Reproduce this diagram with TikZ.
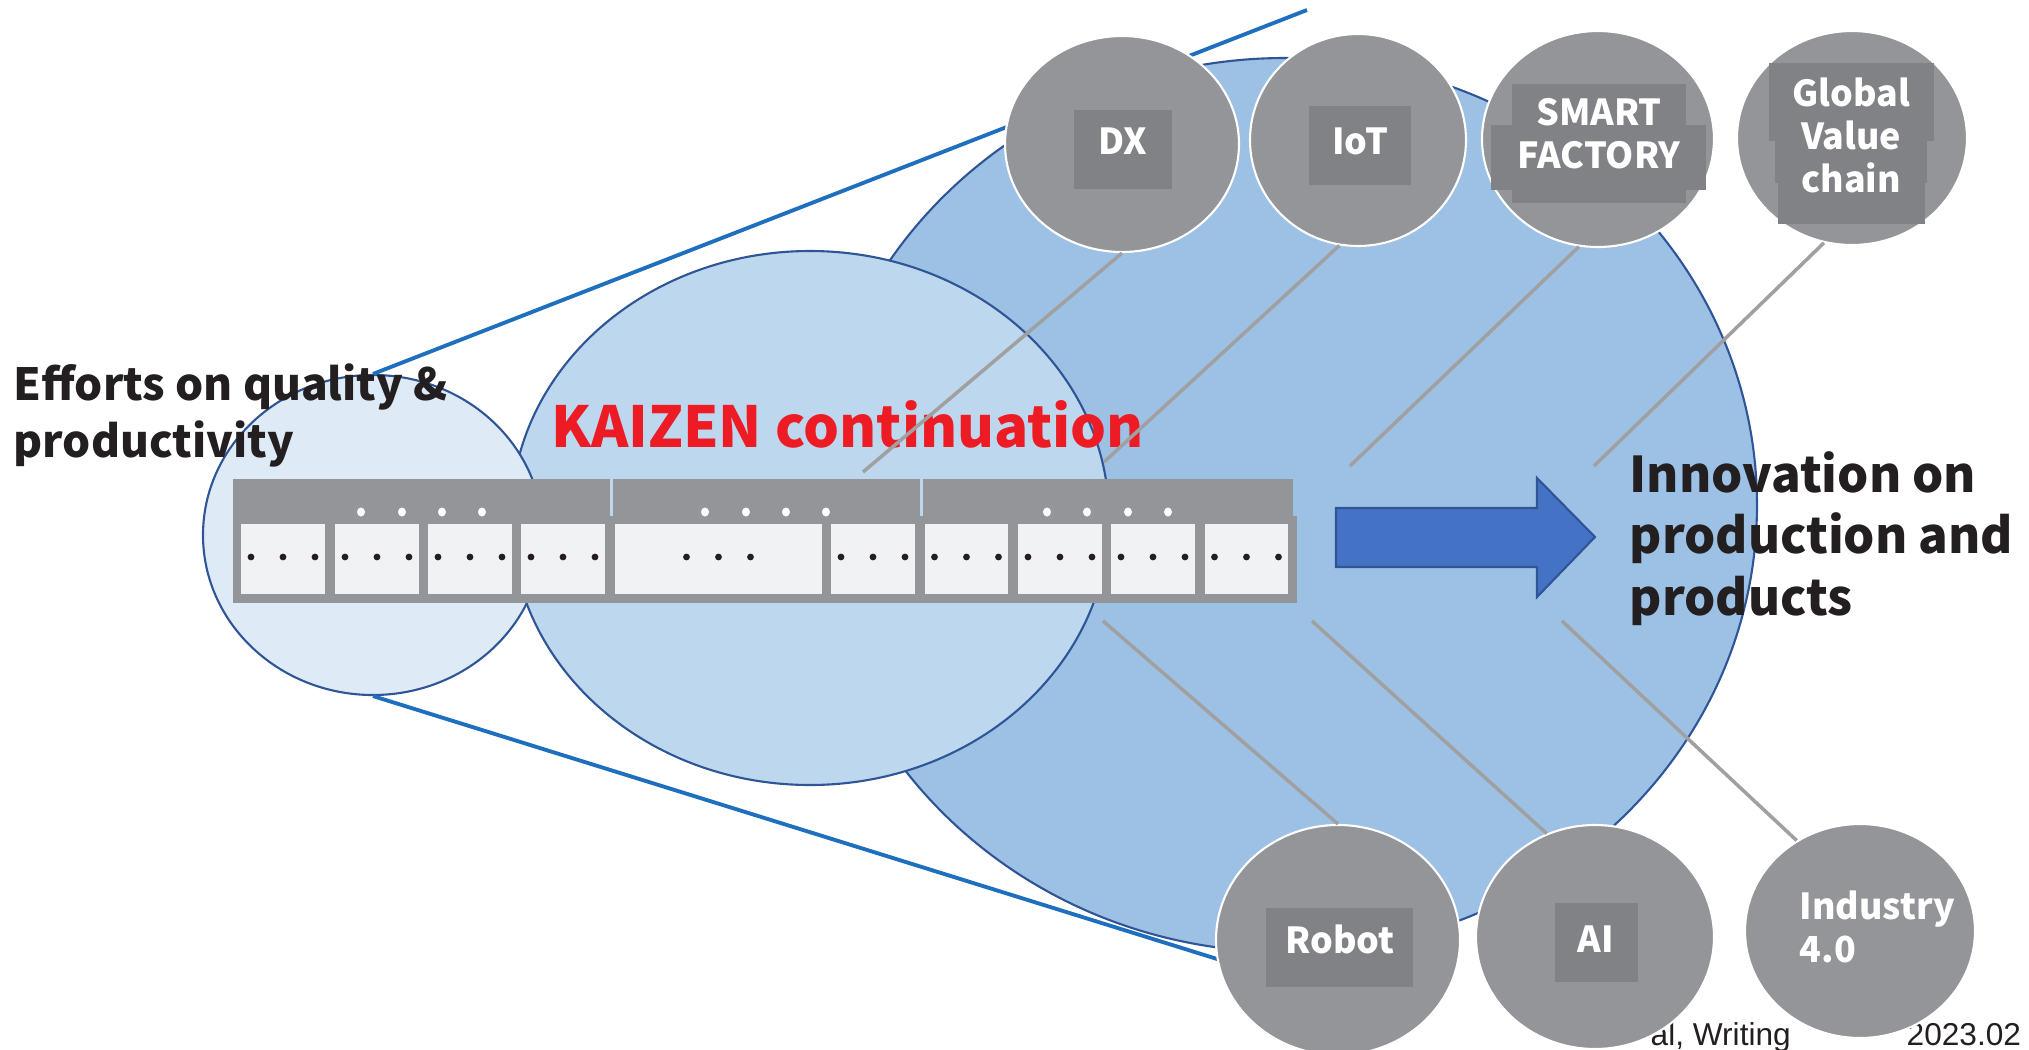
\documentclass[tikz,border=0pt]{standalone}
\usepackage{fontspec}
\setmainfont{Noto Sans CJK JP}
\newfontfamily\footfont{Liberation Sans}
\usetikzlibrary{shapes.geometric}

\definecolor{bigblue}{HTML}{9DC1E5}
\definecolor{midblue}{HTML}{BDD7EE}
\definecolor{paleblue}{HTML}{DEEBF7}
\definecolor{rimblue}{HTML}{2F5597}
\definecolor{lineblue}{HTML}{1F6FBF}
\definecolor{discgray}{HTML}{939598}
\definecolor{tagdark}{HTML}{808285}
\definecolor{bargray}{HTML}{939598}
\definecolor{cellwhite}{HTML}{F1F2F4}
\definecolor{arrowblue}{HTML}{4472C4}
\definecolor{kaizenred}{HTML}{ED1C24}
\definecolor{ink}{HTML}{231F20}
\definecolor{spokegray}{HTML}{A0A0A0}

\begin{document}
\begin{tikzpicture}[
  x=0.1mm, y=-0.1mm,
  blob/.style={ellipse, draw=rimblue, line width=0.6pt, inner sep=0pt},
  disc/.style={ellipse, fill=discgray, draw=white, line width=0.6pt, inner sep=0pt},
  lbl/.style={text=white, inner sep=0pt, font=\bfseries\fontsize{10.2}{12.1}\selectfont},
  spoke/.style={spokegray, line width=1pt},
  rim/.style={lineblue, line width=1.1pt},
  bigtext/.style={text=ink, align=left, inner sep=0pt, anchor=base west}
]
\useasboundingbox (0,0) rectangle (2029,1049);

% the three stages
\node[blob, fill=bigblue, minimum width=94.4mm, minimum height=89.4mm] (outer) at (1285,505) {};
\node[blob, fill=midblue, minimum width=59.8mm, minimum height=53.4mm] (kaizen) at (810,518) {};
\node[blob, fill=paleblue, minimum width=34mm, minimum height=32mm] (effort) at (373,535) {};

\coordinate (topend) at (1307,10);
\coordinate (botend) at (1230,963);
\draw[rim] (effort.north) -- (topend);
\draw[rim] (effort.south) -- (botend);

\node[bigtext, font=\bfseries\fontsize{12.6}{16.2}\selectfont] (efforttxt) at (13,457)
  {Efforts on quality \&\\productivity};
\node[bigtext, text=kaizenred, font=\bfseries\fontsize{16.1}{20}\selectfont] (kaizentxt) at (551,447)
  {KAIZEN continuation};
\node[bigtext, font=\bfseries\fontsize{14}{17.5}\selectfont] (goal) at (1629,615)
  {Innovation on\\production and\\products};

% bar of steps
\fill[bargray] (233,479) rectangle (610,520);
\fill[bargray] (613,479) rectangle (920,520);
\fill[bargray] (923,479) rectangle (1293,520);
\fill[bargray] (233,516) rectangle (1297,603);
\foreach \l/\r in {241/325,335/419,428/512,521/605,615/822,831/915,925/1008,1018/1102,1111/1195,1205/1288}{
  \fill[cellwhite] (\l,524) rectangle (\r,594);
  \foreach \d in {-32,0,32}
    \fill[ink] ({(\l+\r)/2+\d},557) circle (0.34mm);
}
\foreach \x in {361,402,442,482,705,746,786,826,1047,1087,1128,1168}
  \fill[white] (\x,512) ellipse (0.4mm and 0.45mm);

% arrow
\draw[rimblue, fill=arrowblue, line width=0.6pt]
  (1336,508) -- (1537,508) -- (1537,478) -- (1595,537) -- (1537,597)
  -- (1537,567) -- (1336,567) -- cycle;

% footer
\node[font=\footfont\fontsize{9}{11}\selectfont, text=ink, anchor=base west, inner sep=0pt] (note) at (1650,1045) {al, Writing};
\node[font=\footfont\fontsize{9}{11}\selectfont, text=ink, anchor=base west, inner sep=0pt] (date) at (1906,1045) {2023.02};

% technology discs
\node[disc, minimum width=23.4mm, minimum height=21.6mm] (dx) at (1122,144) {};
\node[disc, minimum width=21.6mm, minimum height=21.2mm] (iot) at (1358,140) {};
\node[disc, minimum width=23.2mm, minimum height=21.6mm] (smart) at (1598,139) {};
\node[disc, minimum width=23mm, minimum height=21.4mm] (glob) at (1852,138) {};
\node[disc, minimum width=24.4mm, minimum height=23mm] (robot) at (1338,940) {};
\node[disc, minimum width=23.8mm, minimum height=22.4mm] (ai) at (1595,937) {};
\node[disc, minimum width=23mm, minimum height=21.4mm] (ind) at (1860,931) {};

\fill[tagdark] (1074,110) rectangle (1172,189);
\fill[tagdark] (1309,106) rectangle (1411,185);
\fill[tagdark] (1512,84) rectangle (1686,203);
\fill[tagdark] (1491,125) rectangle (1706,190);
\fill[tagdark] (1769,63) rectangle (1934,141);
\fill[tagdark] (1775,105) rectangle (1927,183);
\fill[tagdark] (1778,183) rectangle (1925,224);
\fill[tagdark] (1266,908) rectangle (1413,987);
\fill[tagdark] (1555,903) rectangle (1638,982);

\node[lbl] (dxlbl) at (1123,141.5) {DX};
\node[lbl] (iotlbl) at (1360,141) {IoT};
\node[lbl, align=center, anchor=base] (smartlbl) at (1599,168) {SMART\\FACTORY};
\node[lbl, align=center, anchor=base] (globlbl) at (1851,192) {Global\\Value\\chain};
\node[lbl] (robotlbl) at (1340,939.5) {Robot};
\node[lbl] (ailbl) at (1596,939) {AI};
\node[lbl, align=left, anchor=base west] (indlbl) at (1799,962) {Industry\\4.0};

% spokes
\coordinate (dxfoot) at (863,472);
\coordinate (iotfoot) at (1104,462);
\coordinate (smartfoot) at (1350,466);
\coordinate (globfoot) at (1594,466);
\coordinate (robotfoot) at (1103,621);
\coordinate (aifoot) at (1312,621);
\coordinate (indfoot) at (1562,621);
\draw[spoke] (dx.south) -- (dxfoot);
\draw[spoke] (iot.260) -- (iotfoot);
\draw[spoke] (smart.260) -- (smartfoot);
\draw[spoke] (glob.255) -- (globfoot);
\draw[spoke] (robot.north) -- (robotfoot);
\draw[spoke] (ai.115) -- (aifoot);
\draw[spoke] (ind.125) -- (indfoot);
\end{tikzpicture}
\end{document}
